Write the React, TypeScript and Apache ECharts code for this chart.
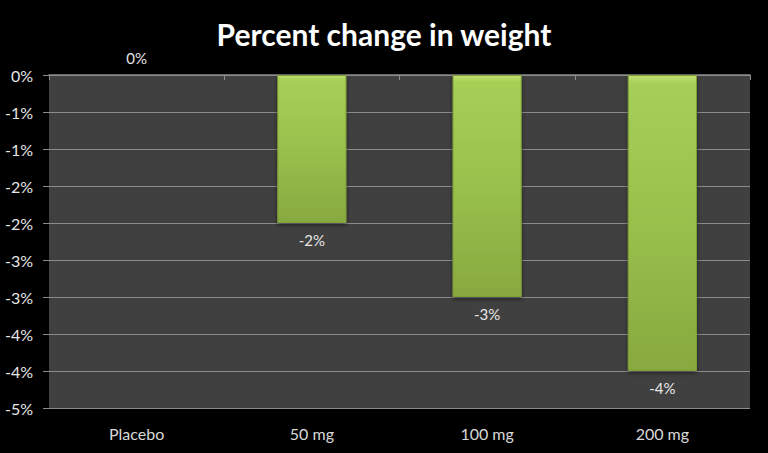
import React, { useEffect, useRef } from "react";
import * as echarts from "echarts";

const categories = ["Placebo", "50 mg", "100 mg", "200 mg"];
const values = [0, -2, -3, -4];
const yMin = -4.5;
const yMax = 0;
const yStep = 0.5;

const fmtPct = (v: number) => {
  const r = Math.round(Math.abs(v));
  return (v < 0 && r !== 0 ? "-" : "") + r + "%";
};

export default function App() {
  const ref = useRef<HTMLDivElement>(null);
  useEffect(() => {
    document.body.style.margin = "0";
    document.body.style.background = "#000000";
    if (!ref.current) return;
    const chart = echarts.init(ref.current, null, { renderer: "svg" });
    const font = "Lato, 'Open Sans', sans-serif";
    chart.setOption({
      animation: false,
      backgroundColor: "#000000",
      title: {
        text: "Percent change in weight",
        left: "center",
        top: 14,
        textStyle: { color: "#ffffff", fontSize: 30, fontWeight: "bold", fontFamily: font },
      },
      grid: {
        left: 49,
        right: 18,
        top: 75,
        bottom: 45,
        show: true,
        backgroundColor: "#404040",
        borderWidth: 0,
      },
      xAxis: [
        {
          type: "category",
          data: categories,
          position: "bottom",
          axisLine: { show: false },
          axisTick: { show: false },
          axisLabel: { color: "#d9d9d9", fontSize: 16, fontFamily: font, margin: 17 },
        },
        {
          type: "category",
          data: categories,
          position: "top",
          axisLine: { show: true, lineStyle: { color: "#8c8c8c", width: 1.5 } },
          axisTick: { show: true, inside: true, length: 5, lineStyle: { color: "#8c8c8c" } },
          axisLabel: { show: false },
        },
      ],
      yAxis: {
        type: "value",
        min: yMin,
        max: yMax,
        interval: yStep,
        axisLine: { show: false },
        axisTick: { show: true, length: 6, lineStyle: { color: "#8c8c8c" } },
        splitLine: { show: true, lineStyle: { color: "#8c8c8c", width: 1 } },
        axisLabel: {
          color: "#e6e6e6",
          fontSize: 16,
          fontFamily: font,
          margin: 16,
          formatter: (v: number) => fmtPct(v),
        },
      },
      series: [
        {
          type: "bar",
          xAxisIndex: 0,
          barWidth: "39.5%",
          data: values.map((v) => ({
            value: v,
            label: { position: v < 0 ? "bottom" : "top" },
          })),
          itemStyle: {
            color: {
              type: "linear",
              x: 0,
              y: 0,
              x2: 0,
              y2: 1,
              colorStops: [
                { offset: 0, color: "#c0e070" },
                { offset: 0.03, color: "#a6cf57" },
                { offset: 0.5, color: "#99c04c" },
                { offset: 1, color: "#88a93f" },
              ],
            },
            borderColor: "#7f9e38",
            borderWidth: 1,
            shadowColor: "rgba(0,0,0,0.5)",
            shadowBlur: 4,
            shadowOffsetY: 2,
          },
          label: {
            show: true,
            color: "#e6e6e6",
            fontSize: 15,
            fontFamily: font,
            distance: 9,
            formatter: (p: any) => fmtPct(p.value),
          },
        },
      ],
    });
    return () => chart.dispose();
  }, []);
  return <div ref={ref} style={{ width: 768, height: 453 }} />;
}
